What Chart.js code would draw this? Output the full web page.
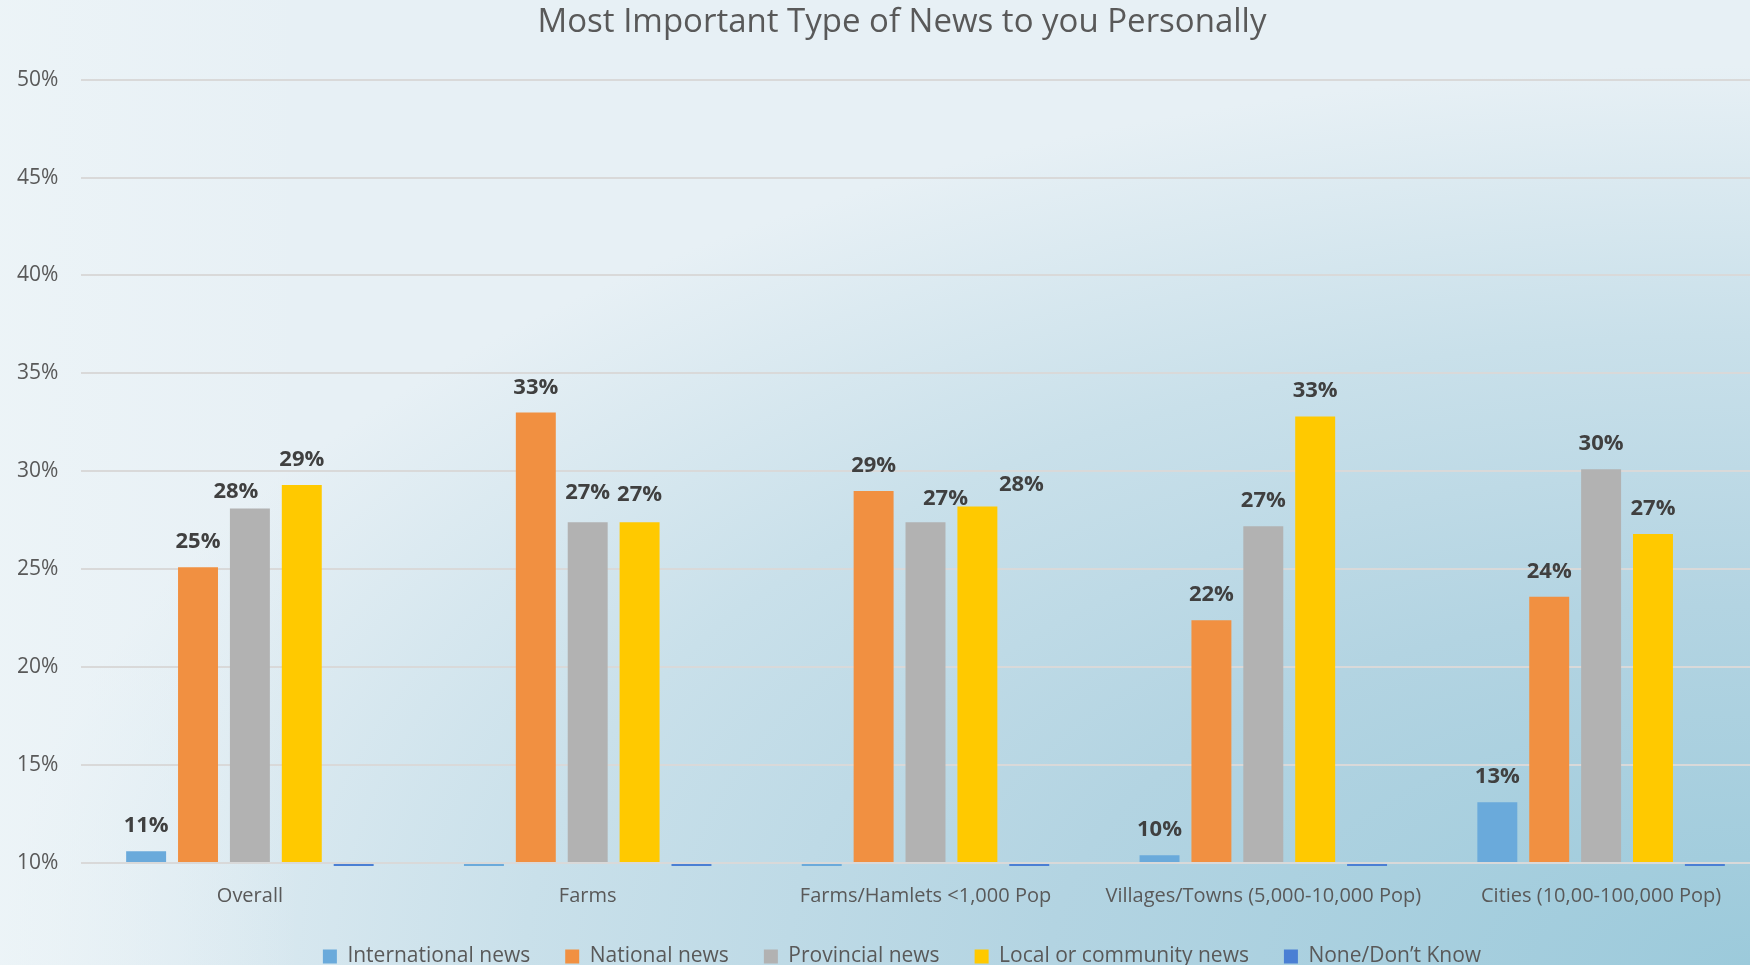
<!DOCTYPE html>
<html>
<head>
<meta charset="utf-8">
<title>Most Important Type of News to you Personally</title>
<script src="https://cdn.jsdelivr.net/npm/chart.js@4.4.1/dist/chart.umd.min.js"></script>
<style>
  html, body { margin: 0; padding: 0; overflow: hidden; }
  body {
    width: 1750px;
    height: 965px;
    background:
      linear-gradient(to right, rgba(238, 245, 248, 0.7) 0px, rgba(238, 245, 248, 0) 300px),
      radial-gradient(ellipse 1750px 900px at 100% 100%, #9ccadb 0%, #b3d4e2 40%, #c9e0ea 70%, #e7f0f5 100%);
  }
  #wrap { position: relative; width: 1770px; height: 965px; }
</style>
</head>
<body>
<div id="wrap"><canvas id="newsChart"></canvas></div>
<script>
// Survey results, percent of respondents
var categories = [
  "Overall",
  "Farms",
  "Farms/Hamlets <1,000 Pop",
  "Villages/Towns (5,000-10,000 Pop)",
  "Cities (10,00-100,000 Pop)"
];
var international = [10.6, 5.6, 7.4, 10.4, 13.1];
var national = [25.1, 33.0, 29.0, 22.4, 23.6];
var provincial = [28.1, 27.4, 27.4, 27.2, 30.1];
var local = [29.3, 27.4, 28.2, 32.8, 26.8];
var noneDontKnow = [6.9, 6.6, 8.0, 7.2, 6.4];

var seriesNames = ["International news", "National news", "Provincial news", "Local or community news", "None/Don\u2019t Know"];
var seriesColors = ["#6aaadb", "#f19041", "#b2b2b2", "#ffc900", "#4a7fd4"];

var yMin = 10;
var yMax = 50;

Chart.defaults.font.family = "'Open Sans', sans-serif";

function makeDataset(i, values) {
  return {
    label: seriesNames[i],
    data: values,
    backgroundColor: seriesColors[i],
    borderWidth: 0,
    base: yMin,
    // let bars under the axis minimum show as a thin strip below the baseline
    clip: { left: 0, top: 0, right: 0, bottom: 3 }
  };
}

// Bold percentage labels above each visible bar
var valueLabels = {
  id: "valueLabels",
  afterDatasetsDraw: function(chart, args, opts) {
    var ctx = chart.ctx;
    ctx.save();
    ctx.font = "bold 22px 'Open Sans'";
    ctx.fillStyle = "#404040";
    ctx.textAlign = "center";
    ctx.textBaseline = "alphabetic";
    chart.data.datasets.forEach(function(ds, di) {
      var meta = chart.getDatasetMeta(di);
      ds.data.forEach(function(v, i) {
        if (v < yMin) return;
        var bar = meta.data[i];
        var nudge = opts.nudges[di + "," + i] || [0, 0];
        ctx.fillText(Math.round(v) + "%", bar.x + nudge[0], bar.y - 19 + nudge[1]);
      });
    });
    ctx.restore();
  }
};

var ctx = document.getElementById("newsChart").getContext("2d");
var newsChart = new Chart(ctx, {
  type: "bar",
  data: {
    labels: categories,
    datasets: [
      makeDataset(0, international),
      makeDataset(1, national),
      makeDataset(2, provincial),
      makeDataset(3, local),
      makeDataset(4, noneDontKnow)
    ]
  },
  options: {
    responsive: true,
    maintainAspectRatio: false,
    animation: false,
    layout: { padding: { left: 34, right: 0, top: 0, bottom: -12 } },
    datasets: {
      bar: { categoryPercentage: 0.768, barPercentage: 0.77 }
    },
    plugins: {
      title: {
        display: true,
        text: "Most Important Type of News to you Personally",
        color: "#595959",
        font: { size: 33, weight: "normal", lineHeight: 1.2 },
        padding: { top: 3, bottom: 37 }
      },
      legend: {
        position: "bottom",
        labels: {
          boxWidth: 14,
          boxHeight: 14,
          padding: 35,
          color: "#595959",
          font: { size: 21 }
        }
      },
      tooltip: { enabled: false },
      valueLabels: {
        nudges: {
          "2,0": [-14, 8],
          "2,1": [0, -4],
          "3,1": [0, -2],
          "2,2": [20, 2],
          "3,2": [44, 3]
        }
      }
    },
    scales: {
      x: {
        grid: { display: false },
        border: { display: false },
        ticks: {
          color: "#595959",
          font: { size: 20 },
          padding: 13,
          maxRotation: 0,
          autoSkip: false
        },
        afterFit: function(scale) { scale.height = 48; }
      },
      y: {
        min: yMin,
        max: yMax,
        grid: { color: "#d9d9d9", lineWidth: 2, drawTicks: false },
        border: { display: false },
        ticks: {
          stepSize: 5,
          // mirrored so the labels are not clipped to the narrow axis box
          mirror: true,
          padding: -64,
          color: "#595959",
          font: { size: 21 },
          callback: function(value) { return value + "%"; }
        },
        afterFit: function(scale) { scale.width = 47; }
      }
    }
  },
  plugins: [valueLabels]
});
</script>
</body>
</html>
